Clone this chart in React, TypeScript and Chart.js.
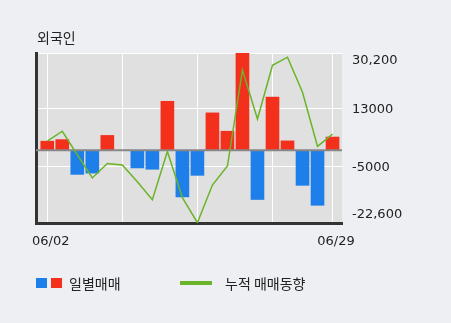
import { useEffect, useRef } from 'react';
import { Chart, registerables } from 'chart.js';

Chart.register(...registerables);

const title = '외국인';
const dates = ['06/02', '06/03', '06/04', '06/05', '06/08', '06/09', '06/10', '06/11', '06/12', '06/15', '06/16', '06/17', '06/18', '06/19', '06/22', '06/23', '06/24', '06/25', '06/26', '06/29'];
const daily = [2800, 3300, -7500, -7100, 4600, 0, -5500, -5900, 15200, -14500, -7800, 11600, 5900, 30200, -15300, 16500, 2900, -10900, -17100, 4100];
const cumulative = [2800, 5900, -1400, -8600, -4100, -4600, -9800, -15400, -400, -14700, -22500, -10800, -4900, 24900, 9700, 26400, 28900, 18000, 1200, 5000];
const yTicks = [30200, 13000, -5000, -22600];
const yTickLabels = ['30,200', '13000', '-5000', '-22,600'];
const xGridIndex = [0, 5, 10, 15, 19];
const xLabelIndex = [0, 19];
const legendDaily = '일별매매';
const legendCum = '누적 매매동향';

const RED = '#f2301c';
const BLUE = '#1e7fea';
const GREEN = '#6ab42a';
const TEXT = '#222';
const KR = '"Noto Sans CJK KR", sans-serif';
const NUM = '"DejaVu Sans", sans-serif';

const decor = {
  id: 'decor',
  beforeDraw(chart: any) {
    const { ctx, chartArea: a } = chart;
    ctx.save();
    ctx.fillStyle = '#e0e0e0';
    ctx.fillRect(a.left, a.top, a.right - a.left, a.bottom - a.top);
    ctx.restore();
  },
  afterDatasetDraw(chart: any, args: any) {
    if (args.index !== 0) return;
    const { ctx, chartArea: a } = chart;
    const y0 = chart.scales.y.getPixelForValue(0);
    ctx.save();
    ctx.strokeStyle = '#888';
    ctx.lineWidth = 2;
    ctx.beginPath();
    ctx.moveTo(a.left, y0);
    ctx.lineTo(a.right, y0);
    ctx.stroke();
    ctx.restore();
  },
  afterDraw(chart: any) {
    const { ctx } = chart;
    const ys = chart.scales.y;
    const xs = chart.scales.x;
    ctx.save();
    ctx.fillStyle = TEXT;
    ctx.font = `14px ${KR}`;
    ctx.textAlign = 'left';
    ctx.textBaseline = 'middle';
    ctx.fillText(title, 37, 38);
    ctx.font = `13px ${NUM}`;
    yTicks.forEach((v, i) => {
      const py = ys.getPixelForValue(v);
      if (i === 0) {
        ctx.textBaseline = 'top';
        ctx.fillText(yTickLabels[i], 352, py + 1);
      } else if (i === yTicks.length - 1) {
        ctx.textBaseline = 'bottom';
        ctx.fillText(yTickLabels[i], 352, py - 2);
      } else {
        ctx.textBaseline = 'middle';
        ctx.fillText(yTickLabels[i], 352, py + 1);
      }
    });
    ctx.textAlign = 'center';
    ctx.textBaseline = 'middle';
    xLabelIndex.forEach((idx) => {
      ctx.fillText(dates[idx], xs.getPixelForValue(idx) + 3.5, 242);
    });
    ctx.fillStyle = BLUE;
    ctx.fillRect(36, 278, 11, 10);
    ctx.fillStyle = RED;
    ctx.fillRect(51, 278, 11, 10);
    ctx.fillStyle = GREEN;
    ctx.fillRect(180, 281, 32, 4);
    ctx.fillStyle = TEXT;
    ctx.font = `14px ${KR}`;
    ctx.textAlign = 'left';
    ctx.textBaseline = 'middle';
    ctx.fillText(legendDaily, 69, 283.5);
    ctx.fillText(legendCum, 225, 283.5);
    ctx.restore();
  },
};

export default function App() {
  const ref = useRef<HTMLCanvasElement | null>(null);
  useEffect(() => {
    if (!ref.current) return;
    const chart = new Chart(ref.current, {
      type: 'line',
      data: {
        datasets: [
          {
            type: 'bar',
            data: daily.map((v, i) => ({ x: i, y: v })),
            backgroundColor: (c: any) => (c.raw && c.raw.y < 0 ? BLUE : RED),
            barThickness: 13,
            grouped: false,
            order: 2,
          } as any,
          {
            type: 'line',
            data: cumulative.map((v, i) => ({ x: i, y: v })),
            borderColor: GREEN,
            borderWidth: 1.5,
            pointRadius: 0,
            tension: 0,
            fill: false,
            order: 1,
          } as any,
        ],
      },
      options: {
        animation: false,
        responsive: false,
        devicePixelRatio: 1,
        layout: { padding: { left: 36, top: 53, right: 109, bottom: 100 } },
        plugins: { legend: { display: false }, tooltip: { enabled: false } },
        scales: {
          x: {
            type: 'linear',
            min: -0.75,
            max: 19.63,
            offset: false,
            afterBuildTicks: (s: any) => {
              s.ticks = xGridIndex.map((v) => ({ value: v }));
            },
            ticks: { display: false },
            grid: { color: '#ffffff', lineWidth: 1, drawTicks: false, offset: false },
            border: { display: true, color: '#333', width: 3 },
          },
          y: {
            type: 'linear',
            position: 'left',
            min: yTicks[yTicks.length - 1],
            max: yTicks[0],
            afterBuildTicks: (s: any) => {
              s.ticks = yTicks.map((v) => ({ value: v }));
            },
            ticks: { display: false },
            grid: {
              color: (c: any) => (c.tick && c.tick.value === yTicks[yTicks.length - 1] ? 'rgba(0,0,0,0)' : '#ffffff'),
              lineWidth: 1,
              drawTicks: false,
            },
            border: { display: true, color: '#333', width: 3 },
          },
        },
      } as any,
      plugins: [decor],
    });
    return () => chart.destroy();
  }, []);
  return (
    <div style={{ position: 'absolute', left: 0, top: 0, width: 451, height: 323, background: '#eeeff3' }}>
      <canvas ref={ref} width={451} height={323} style={{ display: 'block' }} />
    </div>
  );
}
